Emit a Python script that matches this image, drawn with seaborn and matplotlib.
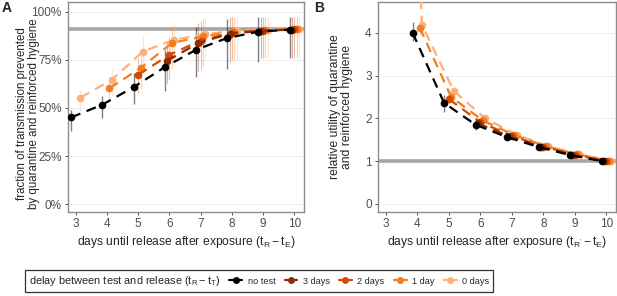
import numpy as np
import pandas as pd
import matplotlib
matplotlib.use("Agg")
import matplotlib.pyplot as plt
import seaborn as sns
from matplotlib.lines import Line2D
from matplotlib.ticker import FuncFormatter

# ---------------- data ----------------
days = [3, 4, 5, 6, 7, 8, 9, 10]
series_names = ["no test", "3 days", "2 days", "1 day", "0 days"]
series_colors = ["#000000", "#8c2d04", "#d94801", "#f47d20", "#fdb07a"]

# Panel A: fraction of transmission prevented (%), NaN where not available
fracA = {
    "no test": [45.1, 51.7, 60.8, 71.2, 80.2, 86.3, 89.6, 90.6],
    "3 days":  [np.nan, np.nan, np.nan, 74.5, 83.7, 88.6, 90.0, 90.7],
    "2 days":  [np.nan, np.nan, 67.2, 77.6, 85.0, 89.0, 90.2, 90.8],
    "1 day":   [np.nan, 60.2, 70.7, 83.7, 87.2, 89.5, 90.4, 90.8],
    "0 days":  [55.4, 64.6, 79.3, 85.4, 88.4, 90.1, 90.5, 90.9],
}
loA = {
    "no test": [38, 45, 52, 59, 66, 70, 74, 76],
    "3 days":  [np.nan, np.nan, np.nan, 63, 69, 74, 76, 76],
    "2 days":  [np.nan, np.nan, 58, 65, 70, 75, 76, 76],
    "1 day":   [np.nan, 53, 60, 70, 72, 75, 76, 76],
    "0 days":  [49, 56, 70, 75, 76, 75, 76, 76],
}
hiA = {
    "no test": [49, 56, 68, 80, 92, 96, 97, 97],
    "3 days":  [np.nan, np.nan, np.nan, 85, 94, 97, 97, 97],
    "2 days":  [np.nan, np.nan, 76, 87, 95, 97, 97, 97],
    "1 day":   [np.nan, 66, 80, 92, 96, 97, 97, 97],
    "0 days":  [60, 70, 88, 93, 97, 97, 97, 97],
}
refA = 91.0

# Panel B: relative utility
utilB = {
    "no test": [np.nan, 4.00, 2.36, 1.85, 1.56, 1.33, 1.14, 1.00],
    "3 days":  [np.nan, np.nan, np.nan, 1.88, 1.58, 1.34, 1.15, 1.00],
    "2 days":  [np.nan, np.nan, 2.45, 1.91, 1.59, 1.34, 1.15, 1.00],
    "1 day":   [np.nan, 4.12, 2.50, 1.95, 1.61, 1.35, 1.16, 1.01],
    "0 days":  [20.0, 4.18, 2.65, 2.00, 1.62, 1.35, 1.16, 1.01],
}
loB = {
    "no test": [np.nan, 3.80, 2.15, 1.72, 1.50, 1.29, 1.12, 0.99],
    "3 days":  [np.nan, np.nan, np.nan, 1.80, 1.53, 1.31, 1.13, 0.99],
    "2 days":  [np.nan, np.nan, 2.35, 1.83, 1.54, 1.31, 1.13, 0.99],
    "1 day":   [np.nan, 3.95, 2.38, 1.86, 1.56, 1.32, 1.14, 0.99],
    "0 days":  [15.0, 4.00, 2.52, 1.90, 1.57, 1.32, 1.14, 0.99],
}
hiB = {
    "no test": [np.nan, 4.25, 2.55, 1.98, 1.63, 1.38, 1.17, 1.01],
    "3 days":  [np.nan, np.nan, np.nan, 1.96, 1.64, 1.38, 1.17, 1.01],
    "2 days":  [np.nan, np.nan, 2.55, 1.99, 1.65, 1.38, 1.17, 1.01],
    "1 day":   [np.nan, 4.30, 2.62, 2.04, 1.67, 1.39, 1.18, 1.02],
    "0 days":  [25.0, 4.40, 2.78, 2.10, 1.68, 1.39, 1.18, 1.02],
}
refB = 1.0

# ---------------- style ----------------
sns.set_theme(style="white")
plt.rcParams["font.family"] = ["Liberation Sans", "DejaVu Sans"]
plt.rcParams["mathtext.fontset"] = "custom"
plt.rcParams["mathtext.rm"] = "Liberation Sans"
plt.rcParams["mathtext.it"] = "Liberation Sans:italic"

fig = plt.figure(figsize=(6.17, 2.96), dpi=100)
W, H = 617, 296
axA = fig.add_axes([68 / W, 1 - 212 / H, (304 - 68) / W, (212 - 2) / H])
axB = fig.add_axes([378 / W, 1 - 212 / H, (616 - 378) / W, (212 - 2) / H])

offsets = np.linspace(-0.15, 0.15, len(series_names))


def build(vals, lo, hi):
    rows = []
    for k, name in enumerate(series_names):
        for i, d in enumerate(days):
            rows.append(dict(series=name, day=d, x=d + offsets[k],
                             y=vals[name][i], lo=lo[name][i], hi=hi[name][i]))
    return pd.DataFrame(rows).dropna()


def draw(ax, df, ref, bar_alpha_black, bar_alpha_col):
    ax.axhline(ref, color="#a6a6a6", lw=2.6, zorder=1)
    for k, name in enumerate(series_names):
        sub = df[df.series == name]
        c = series_colors[k]
        ax.vlines(sub.x, sub.lo, sub.hi, color=c,
                  alpha=bar_alpha_black if k == 0 else bar_alpha_col,
                  lw=1.0 if k == 0 else 0.8, zorder=2)
    for k, name in reversed(list(enumerate(series_names))):
        sub = df[df.series == name]
        c = series_colors[k]
        sns.lineplot(data=sub, x="x", y="y", ax=ax, color=c, lw=1.6,
                     linestyle=(0, (4.5, 3)), marker="o", markersize=5.5,
                     markeredgewidth=0, zorder=3 + (5 - k), legend=False,
                     sort=True, estimator=None)


dfA = build(fracA, loA, hiA)
dfB = build(utilB, loB, hiB)
draw(axA, dfA, refA, 0.5, 0.35)
draw(axB, dfB, refB, 0.5, 0.35)

for ax in (axA, axB):
    ax.set_xlim(2.75, 10.31)
    ax.set_xticks(days)
    ax.grid(axis="y", color="#ebebeb", lw=0.6)
    ax.set_axisbelow(True)
    for s in ax.spines.values():
        s.set_color("#8c8c8c")
        s.set_linewidth(1.0)
    ax.tick_params(axis="both", length=2.5, width=0.6, color="#333333",
                   labelsize=8.5, labelcolor="#4d4d4d", pad=2, direction="out",
                   bottom=True, left=True)

axA.set_ylim(-4, 105)
axA.set_yticks([0, 25, 50, 75, 100])
axA.yaxis.set_major_formatter(FuncFormatter(lambda v, p: f"{int(v)}%"))
axB.set_ylim(-0.19, 4.72)
axB.set_yticks([0, 1, 2, 3, 4])

lab_fs = 8.7
ylab_fs = 8.3
axA.set_xlabel(r"days until release after exposure ($\mathrm{t_R - t_E}$)",
               fontsize=lab_fs, labelpad=3)
axB.set_xlabel(r"days until release after exposure ($\mathrm{t_{R'} - t_E}$)",
               fontsize=lab_fs, labelpad=3)
axA.set_ylabel("fraction of transmission prevented\nby quarantine and reinforced hygiene",
               fontsize=ylab_fs, labelpad=2, linespacing=1.0)
axA.yaxis.set_label_coords(-0.118, 0.47)
axB.set_ylabel("relative utility of quarantine\nand reinforced hygiene",
               fontsize=lab_fs, labelpad=9, linespacing=1.0)

fig.text(2 / W, 1 - 1 / H, "A", fontsize=10, fontweight="bold", va="top", ha="left")
fig.text(314 / W, 1 - 1 / H, "B", fontsize=10, fontweight="bold", va="top", ha="left")

# ---------------- legend ----------------
handles = [Line2D([], [], color=c, lw=1.6, marker="o", markersize=5,
                  markeredgewidth=0) for c in series_colors]
leg = fig.legend(handles, series_names, loc="center", ncol=5,
                 bbox_to_anchor=(259 / W, 1 - 281 / H),
                 title=r"delay between test and release ($\mathrm{t_R - t_T}$)",
                 fontsize=6.6, title_fontsize=7.9, frameon=True, fancybox=False,
                 edgecolor="black", handlelength=1.4, handletextpad=0.6,
                 columnspacing=1.0, borderpad=0.4)
leg.get_frame().set_linewidth(0.9)
try:
    c0 = leg.get_children()[0]
    title_box = c0.get_children()[0]
    hpack = c0.get_children()[1]
    c0._children = [hpack]
    hpack._children = [title_box] + hpack.get_children()
    hpack.align = "center"
except Exception:
    pass

fig.savefig("out.png", dpi=100)
